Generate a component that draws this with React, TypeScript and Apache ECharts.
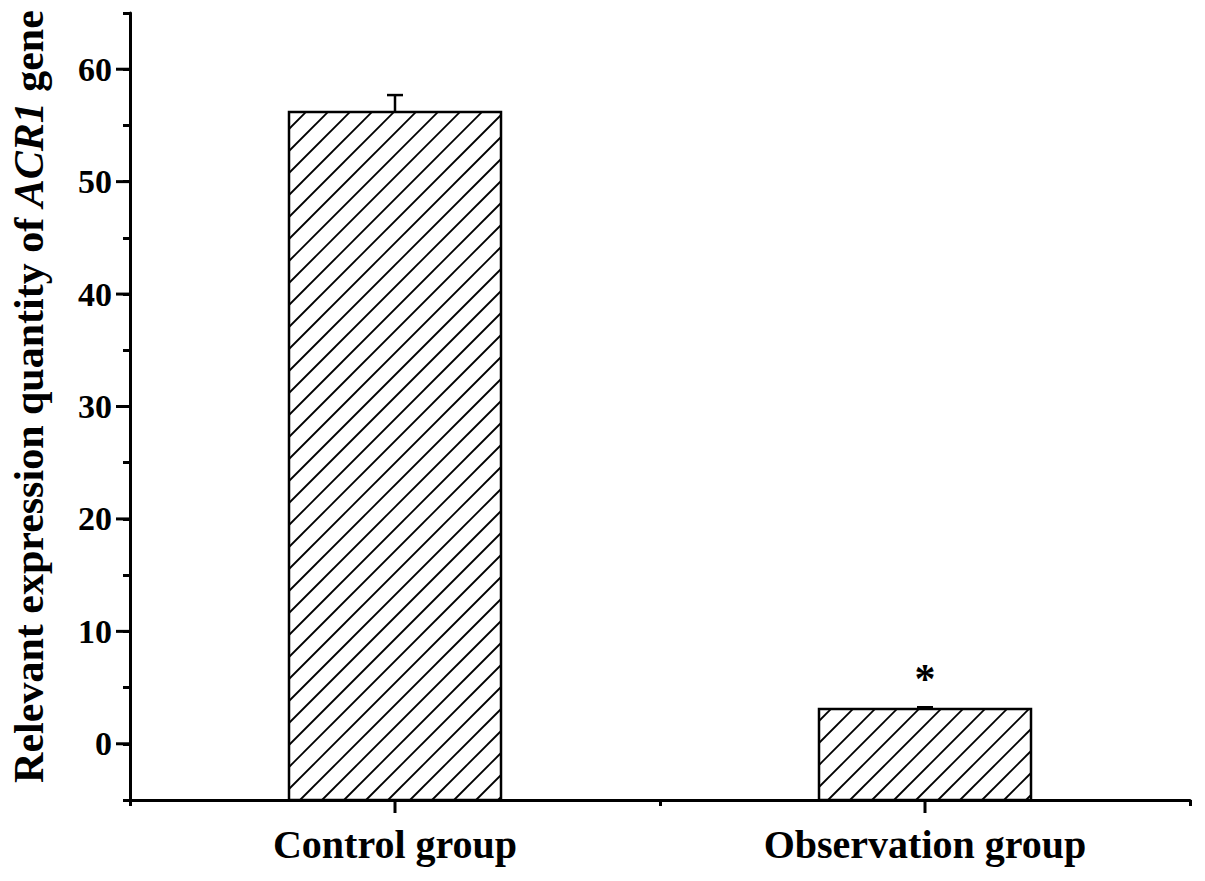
import React, { useEffect, useRef } from "react";
import * as echarts from "echarts";

const categories = ["Control group", "Observation group"];
const means = [56.2, 3.1];
const errors = [1.5, 0.15];
const marks = ["", "*"];
const yMajorTicks = [0, 10, 20, 30, 40, 50, 60];
const yMin = -5;
const yMax = 65;

const FONT = '"Liberation Serif", "Times New Roman", serif';

export default function App() {
  const ref = useRef<HTMLDivElement>(null);
  useEffect(() => {
    if (!ref.current) return;
    const chart = echarts.init(ref.current, null, { renderer: "svg" });
    const barData = categories.map((c, i) => [i, means[i], errors[i], i]);
    const option: any = {
      animation: false,
      backgroundColor: "#fff",
      grid: { left: 128, right: 15, top: 13, bottom: 81, containLabel: false },
      xAxis: [
        {
          type: "category",
          data: categories,
          position: "bottom",
          boundaryGap: true,
          axisLine: { onZero: false, lineStyle: { color: "#000", width: 3 } },
          axisTick: { show: true, length: 6, lineStyle: { color: "#000", width: 3 } },
          axisLabel: { color: "#000", fontSize: 40, fontWeight: "bold", fontFamily: FONT, margin: 24 },
          splitLine: { show: false },
        },
      ],
      yAxis: {
        type: "value",
        min: yMin,
        max: yMax,
        interval: 5,
        name: "Relevant expression quantity of {i|ACR1} gene",
        nameLocation: "middle",
        nameGap: 80,
        nameTextStyle: {
          color: "#000",
          fontSize: 42,
          fontWeight: "bold",
          fontFamily: FONT,
          padding: [0, 0, 0, 20],
          rich: {
            i: { fontSize: 42, fontWeight: "bold", fontStyle: "italic", fontFamily: FONT, color: "#000" },
          },
        },
        axisLine: { show: true, lineStyle: { color: "#000", width: 3 } },
        axisTick: { show: true, length: 7, lineStyle: { color: "#000", width: 3 } },
        axisLabel: {
          color: "#000",
          fontSize: 34,
          fontWeight: "bold",
          fontFamily: FONT,
          margin: 18,
          formatter: (v: number) => (yMajorTicks.indexOf(v) >= 0 ? String(v) : ""),
        },
        splitLine: { show: false },
      },
      series: [
        {
          type: "custom",
          name: "bars",
          xAxisIndex: 0,
          clip: false,
          encode: { x: 0, y: 1 },
          data: barData,
          renderItem: (params: any, api: any) => {
            const i = api.value(0);
            const v = api.value(1);
            const e = api.value(2);
            const idx = api.value(3);
            const base = api.coord([i, yMin]);
            const top = api.coord([i, v]);
            const errTop = api.coord([i, v + e]);
            const bw = api.size([1, 0])[0] * 0.4;
            const x0 = base[0] - bw / 2;
            const x1 = base[0] + bw / 2;
            const y0 = top[1];
            const y1 = base[1];
            const children: any[] = [];
            children.push({
              type: "rect",
              shape: { x: x0, y: y0, width: x1 - x0, height: y1 - y0 },
              style: { fill: "#fff", stroke: "none" },
            });
            const step = 22;
            const cStart = Math.ceil((x0 + y0) / step) * step;
            for (let c = cStart; c <= x1 + y1; c += step) {
              const xa = Math.max(x0, c - y1);
              const xb = Math.min(x1, c - y0);
              if (xb - xa > 0.5) {
                children.push({
                  type: "line",
                  shape: { x1: xa, y1: c - xa, x2: xb, y2: c - xb },
                  style: { stroke: "#000", lineWidth: 1.8 },
                });
              }
            }
            children.push({
              type: "rect",
              shape: { x: x0, y: y0, width: x1 - x0, height: y1 - y0 },
              style: { fill: "none", stroke: "#000", lineWidth: 2.5 },
            });
            // category tick under the bar centre
            children.push({
              type: "line",
              shape: { x1: base[0], y1: y1, x2: base[0], y2: y1 + 13 },
              style: { stroke: "#000", lineWidth: 3 },
            });
            children.push({
              type: "line",
              shape: { x1: top[0], y1: top[1], x2: errTop[0], y2: errTop[1] },
              style: { stroke: "#000", lineWidth: 2.5 },
            });
            children.push({
              type: "line",
              shape: { x1: errTop[0] - 8, y1: errTop[1], x2: errTop[0] + 8, y2: errTop[1] },
              style: { stroke: "#000", lineWidth: 2.5 },
            });
            const mark = marks[idx];
            if (mark) {
              children.push({
                type: "text",
                x: errTop[0],
                y: errTop[1] - 7,
                style: {
                  text: mark,
                  fill: "#000",
                  fontSize: 42,
                  fontWeight: "bold",
                  fontFamily: FONT,
                  textAlign: "center",
                  textVerticalAlign: "bottom",
                },
              });
            }
            return { type: "group", children };
          },
        },
        {
          type: "custom",
          name: "majorTicks",
          xAxisIndex: 0,
          clip: false,
          encode: { x: 0, y: 1 },
          data: yMajorTicks.map((v) => [0, v]),
          renderItem: (params: any, api: any) => {
            const p = api.coord([0, api.value(1)]);
            const left = params.coordSys.x;
            return {
              type: "line",
              shape: { x1: left - 14, y1: p[1], x2: left, y2: p[1] },
              style: { stroke: "#000", lineWidth: 3 },
            };
          },
        },
      ],
    };
    chart.setOption(option);
    return () => chart.dispose();
  }, []);
  return (
    <div
      ref={ref}
      style={{ position: "absolute", left: 0, top: 0, width: 1205, height: 881 }}
    />
  );
}
